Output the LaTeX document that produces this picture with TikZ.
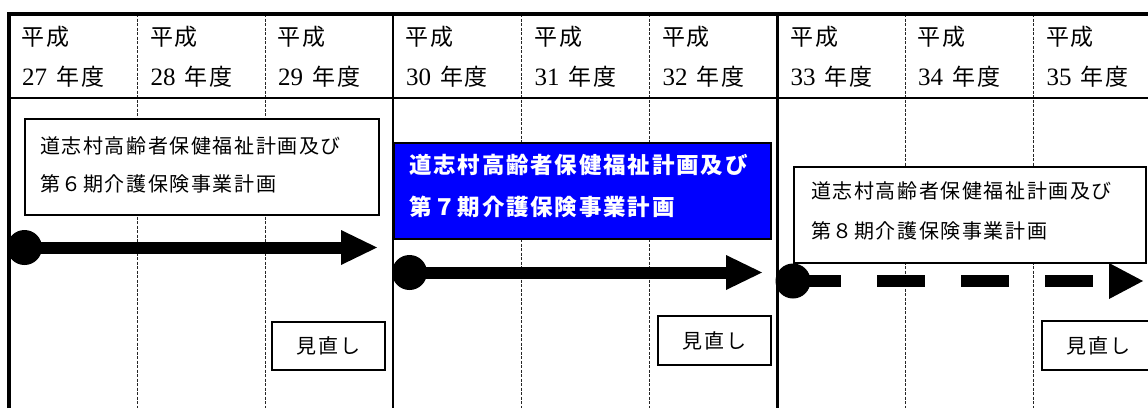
\documentclass[tikz,border=0pt]{standalone}
\usepackage{fontspec}
\newfontfamily\jp{Noto Sans CJK JP}[LetterSpace=8]
\newfontfamily\numfont{Liberation Serif}
\usetikzlibrary{calc}
\definecolor{planblue}{RGB}{0,0,255}
\begin{document}
\begin{tikzpicture}[x=1pt,y=-1pt,
  grid/.style={line width=1pt, draw=black!85, dash pattern=on 3pt off 1.5pt},
  frame/.style={line width=3.3pt, line join=miter},
  sepline/.style={line width=2.3pt},
  planbox/.style={draw=black, line width=1.8pt, fill=white, rectangle, anchor=north west, inner sep=0pt, minimum height=96pt},
  boxtext/.style={anchor=west, inner sep=0pt, align=left, font=\jp\fontsize{20}{38}\selectfont},
  reviewbox/.style={draw=black, line width=1.8pt, fill=white, rectangle, inner sep=0pt, minimum width=113pt, minimum height=48.5pt, font=\jp\fontsize{20}{20}\selectfont},
  head/.style={anchor=west, inner sep=0pt, font=\jp\fontsize{23}{23}\selectfont},
  dot/.style={circle, fill=black, inner sep=0pt, minimum size=35pt},
  shaft/.style={line width=12pt, line cap=butt}
]
\useasboundingbox (0,0) rectangle (1148,408);
\clip (0,0) rectangle (1148,408);
\fill[white] (0,0) rectangle (1148,408);

% dashed column lines
\foreach \x in {137.3,265,521.5,649.3,905,1033.3}
  \draw[grid] (\x,14) -- (\x,408);

% frame and solid lines
\draw[frame] (9,408) -- (9,14) -- (1152,14);
\draw[sepline] (9,98) -- (1152,98);
\draw[sepline] (392.8,14) -- (392.8,408);
\draw[sepline] (777.5,14) -- (777.5,408);

% header
\foreach \L/\n in {9/27,137.3/28,265/29,392.8/30,521.5/31,649.3/32,777.5/33,905/34,1033.3/35} {
  \node[head] (ha\n) at (\L+12.5,37) {平成};
  \node[head] (hb\n) at (\L+13,77) {{\numfont\fontsize{25}{25}\selectfont\n}\hspace{9pt}年度};
}

% plan boxes
\node[planbox, minimum width=354pt] (p6) at (24,118) {};
\node[boxtext] (p6t) at (40,165) {道志村高齢者保健福祉計画及び\\第６期介護保険事業計画};

\node[planbox, fill=planblue, minimum width=377pt] (p7) at (393,142) {};
\node[boxtext, text=white, font=\jp\bfseries\fontsize{22.5}{42}\selectfont] (p7t) at (409,186) {道志村高齢者保健福祉計画及び\\第７期介護保険事業計画};

\node[planbox, minimum width=352pt] (p8) at (793,166) {};
\node[boxtext, font=\jp\fontsize{20}{40}\selectfont] (p8t) at (811,211) {道志村高齢者保健福祉計画及び\\第８期介護保険事業計画};

% review boxes
\node[reviewbox] (r6) at (328.5,346) {見直し};
\node[reviewbox] (r7) at (714.5,340.5) {見直し};
\node[reviewbox] (r8) at (1098.5,345.5) {見直し};

% arrow 1
\node[dot] (s6) at (24.5,247.5) {};
\coordinate (e6) at (341,247.5);
\coordinate (t6) at (377,247.5);
\draw[shaft] (s6.center) -- (e6);
\fill ($(e6)+(0,-17.5)$) -- (t6) -- ($(e6)+(0,17.5)$) -- cycle;

% arrow 2
\node[dot] (s7) at (409.5,272.5) {};
\coordinate (e7) at (726,272.5);
\coordinate (t7) at (762,272.5);
\draw[shaft] (s7.center) -- (e7);
\fill ($(e7)+(0,-17.5)$) -- (t7) -- ($(e7)+(0,17.5)$) -- cycle;

% arrow 3 (dashed)
\node[dot] (s8) at (793,281) {};
\coordinate (e8) at (1093,281);
\coordinate (b8) at (1109,281);
\coordinate (t8) at (1143,281);
\draw[shaft, dash pattern=on 48pt off 36pt] (s8.center) -- (e8);
\fill ($(b8)+(0,-18)$) -- (t8) -- ($(b8)+(0,18)$) -- cycle;
\end{tikzpicture}
\end{document}
